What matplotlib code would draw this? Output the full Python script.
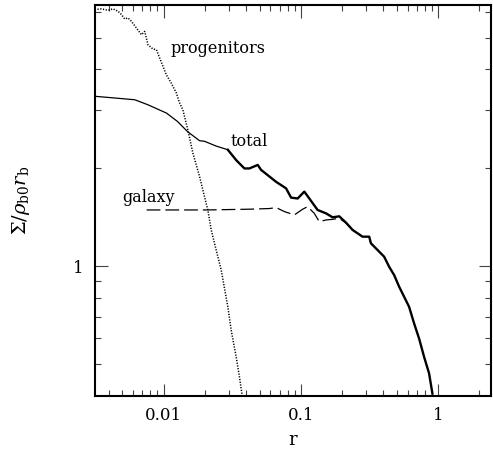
import matplotlib
matplotlib.use("Agg")
import matplotlib.pyplot as plt
from matplotlib.ticker import FixedLocator, FixedFormatter, NullFormatter

plt.rcParams['font.family'] = ['DejaVu Serif']
plt.rcParams['mathtext.fontset'] = 'dejavuserif'

# total surface density
total_r = [0.00315, 0.00441, 0.00616, 0.00765, 0.0105, 0.01264, 0.01494, 0.01828, 0.01986,
           0.02415, 0.02938, 0.0338, 0.0388, 0.0422, 0.0485, 0.0513, 0.0590, 0.0661, 0.0780,
           0.0849, 0.0948, 0.106, 0.1153, 0.1324, 0.1525, 0.1703, 0.1905, 0.2133, 0.2382,
           0.2815, 0.315, 0.324, 0.362, 0.4046, 0.44, 0.4786, 0.5205, 0.566, 0.615, 0.669,
           0.727, 0.791, 0.860, 0.909]
total_s = [3.31, 3.27, 3.23, 3.12, 2.94, 2.77, 2.58, 2.42, 2.41,
           2.33, 2.27, 2.11, 1.99, 1.99, 2.04, 1.97, 1.88, 1.81, 1.73,
           1.62, 1.61, 1.69, 1.61, 1.485, 1.45, 1.41, 1.42, 1.358, 1.29,
           1.23, 1.23, 1.174, 1.12, 1.068, 0.995, 0.938, 0.864, 0.805, 0.75, 0.667,
           0.60, 0.527, 0.469, 0.407]

# galaxy component
galaxy_r = [0.00752, 0.02044, 0.0422, 0.059, 0.0661, 0.0759, 0.0897, 0.1031, 0.112,
            0.1253, 0.1363, 0.1525, 0.1703, 0.1905, 0.2133, 0.2382]
galaxy_s = [1.485, 1.485, 1.493, 1.50, 1.51, 1.468, 1.434, 1.493, 1.52,
            1.45, 1.367, 1.384, 1.39, 1.40, 1.355, 1.29]

# progenitors component
prog_r = [0.00315, 0.00352, 0.00394, 0.00428, 0.00465, 0.00493, 0.0052, 0.0055, 0.00582,
          0.00633, 0.00689, 0.00728, 0.00769, 0.00836, 0.00885, 0.00935, 0.00989, 0.01047,
          0.01138, 0.01237, 0.01307, 0.01381, 0.01502, 0.01633, 0.01828, 0.01986, 0.021,
          0.02223, 0.02415, 0.0263, 0.02777, 0.02937, 0.03108, 0.0338, 0.0357, 0.03735]
prog_s = [6.10, 6.13, 6.07, 6.13, 6.03, 5.89, 5.71, 5.75, 5.62,
          5.36, 5.11, 5.23, 4.76, 4.62, 4.60, 4.34, 4.09, 3.85,
          3.63, 3.39, 3.16, 3.01, 2.61, 2.22, 1.88, 1.63, 1.485,
          1.29, 1.12, 0.972, 0.854, 0.75, 0.636, 0.527, 0.457, 0.402]

x_major = [0.01, 0.1, 1]
x_major_labels = ["0.01", "0.1", "1"]
x_minor = [0.004, 0.005, 0.006, 0.007, 0.008, 0.009,
           0.02, 0.03, 0.04, 0.05, 0.06, 0.07, 0.08, 0.09,
           0.2, 0.3, 0.4, 0.5, 0.6, 0.7, 0.8, 0.9, 2]
y_major = [1]
y_major_labels = ["1"]
y_minor = [0.5, 0.6, 0.7, 0.8, 0.9, 2, 3, 4, 5, 6]

fig = plt.figure(figsize=(4.93, 4.5), dpi=100)
ax = fig.add_axes([95/493, 1 - 396/450, 396/493, 391/450])
ax.set_xscale('log')
ax.set_yscale('log')

split = 10
ax.plot(total_r[:split + 1], total_s[:split + 1], color='black', lw=0.9)
ax.plot(total_r[split:], total_s[split:], color='black', lw=1.7)
ax.plot(galaxy_r, galaxy_s, color='black', lw=0.9, dashes=(11, 4))
ax.plot(prog_r, prog_s, color='black', lw=1.1, dashes=(0.8, 1.0))

ax.set_xlim(10**-2.5, 2.43)
ax.set_ylim(0.40, 6.3)

ax.xaxis.set_major_locator(FixedLocator(x_major))
ax.xaxis.set_major_formatter(FixedFormatter(x_major_labels))
ax.xaxis.set_minor_locator(FixedLocator(x_minor))
ax.xaxis.set_minor_formatter(NullFormatter())
ax.yaxis.set_major_locator(FixedLocator(y_major))
ax.yaxis.set_major_formatter(FixedFormatter(y_major_labels))
ax.yaxis.set_minor_locator(FixedLocator(y_minor))
ax.yaxis.set_minor_formatter(NullFormatter())

ax.tick_params(which='both', direction='in', top=True, right=True, color='#444444')
ax.tick_params(which='major', length=9, width=0.8, labelsize=12, pad=8)
ax.tick_params(which='minor', length=4.5, width=0.8)
for s in ax.spines.values():
    s.set_linewidth(1.5)

ax.set_xlabel('r', fontsize=13, labelpad=5)
ax.set_ylabel(r'$\Sigma/\rho_{\rm b0}r_{\rm b}$', fontsize=14)
ax.yaxis.set_label_coords(-0.16, 0.5)

ax.text(0.01125, 4.50, 'progenitors', fontsize=11.5, va='baseline', ha='left')
ax.text(0.0307, 2.33, 'total', fontsize=11.5, va='baseline', ha='left')
ax.text(0.00503, 1.575, 'galaxy', fontsize=11.5, va='baseline', ha='left')

fig.savefig('out.png', dpi=100)
